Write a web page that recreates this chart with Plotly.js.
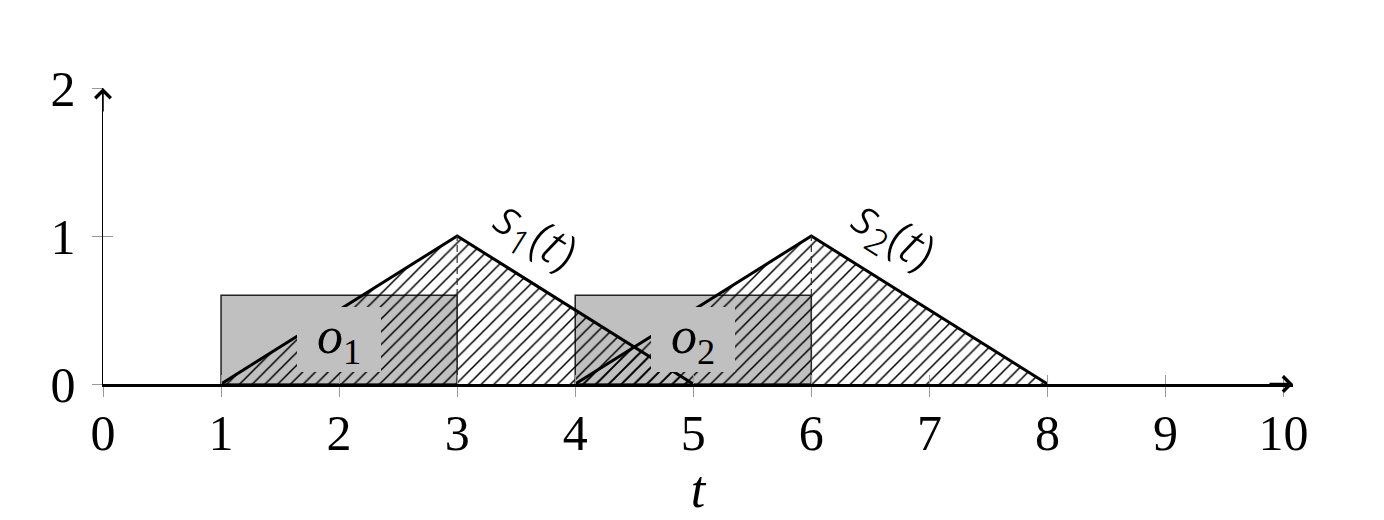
<!DOCTYPE html>
<html>
<head>
<meta charset="utf-8">
<script src="https://cdn.plot.ly/plotly-3.0.1.min.js"></script>
<style>html,body{margin:0;padding:0;background:#fff;}#chart{width:1384px;height:520px;}</style>
</head>
<body>
<div id="chart"></div>
<script>
// ---- data ----
const xTickVals = [0, 1, 2, 3, 4, 5, 6, 7, 8, 9, 10];
const xTickText = ["0", "1", "2", "3", "4", "5", "6", "7", "8", "9", "10"];
const yTickVals = [0, 1, 2];
const yTickText = ["0", "1", "2"];

// s1(t), s2(t): triangular signals
const s1T = [1, 3, 5];
const s1V = [0, 1, 0];
const s2T = [4, 6, 8];
const s2V = [0, 1, 0];

// o1, o2: rectangular windows [start, end] and height
const o1Span = [1, 3];
const o2Span = [4, 6];
const oHeight = 0.6;

// peak markers (dashed verticals)
const peakT = [3, 6];
const peakV = 1;

// labels
const oLabels = ["<i>o</i><sub>1</sub>", "<i>o</i><sub>2</sub>"];
const oLabelT = [2.0, 5.0];
const oLabelV = 0.3;
const sLabels = ["<i>s</i><sub>1</sub>(<i>t</i>)", "<i>s</i><sub>2</sub>(<i>t</i>)"];
const sLabelT = [3.66, 6.70];
const sLabelV = 1.0;

// ---- build ----
const GRAY = '#c0c0c0';
const traces = [];

function rectTrace(span, h) {
  return {
    x: [span[0], span[1], span[1], span[0], span[0]],
    y: [0, 0, h, h, 0],
    mode: 'lines', fill: 'toself', fillcolor: GRAY,
    line: {color: '#222', width: 1.5},
    hoverinfo: 'skip', showlegend: false
  };
}
traces.push(rectTrace(o1Span, oHeight));
traces.push(rectTrace(o2Span, oHeight));

function triTrace(t, v) {
  return {
    x: t, y: v, mode: 'lines', fill: 'toself',
    fillcolor: 'rgba(0,0,0,0)',
    fillpattern: {shape: '/', fgcolor: '#000', bgcolor: 'rgba(0,0,0,0)', size: 9, solidity: 0.17},
    line: {color: '#000', width: 3},
    hoverinfo: 'skip', showlegend: false
  };
}
traces.push(triTrace(s1T, s1V));
traces.push(triTrace(s2T, s2V));

peakT.forEach(p => {
  traces.push({
    x: [p, p], y: [0, peakV], mode: 'lines',
    line: {color: '#333', width: 1.2, dash: '7px,4px'},
    hoverinfo: 'skip', showlegend: false
  });
});

const annotations = [];
oLabels.forEach((txt, i) => {
  annotations.push({
    x: oLabelT[i], y: oLabelV, xref: 'x', yref: 'y', text: txt, showarrow: false,
    bgcolor: GRAY, width: 84, height: 65, borderpad: 0, borderwidth: 0,
    font: {family: 'Liberation Serif', size: 52, color: '#000'}
  });
});
sLabels.forEach((txt, i) => {
  annotations.push({
    x: sLabelT[i], y: sLabelV, xref: 'x', yref: 'y', text: txt, showarrow: false,
    textangle: 32,
    font: {family: 'Noto Sans', size: 50, color: '#000', weight: 300}
  });
});
// axis arrowheads
annotations.push({
  x: 10.08, y: 0, xref: 'x', yref: 'y', ax: -25, ay: 0, text: '', showarrow: true,
  arrowhead: 4, arrowwidth: 2.6, arrowsize: 1.15, arrowcolor: '#000', standoff: 0
});
annotations.push({
  x: 0, y: 2, xref: 'x', yref: 'y', ax: 0, ay: 25, text: '', showarrow: true,
  arrowhead: 4, arrowwidth: 1.5, arrowsize: 2, arrowcolor: '#000', standoff: 0
});

const tickFont = {family: 'Liberation Serif', size: 50, color: '#000'};
const layout = {
  width: 1384, height: 520,
  margin: {l: 103, r: 91, t: 88, b: 136},
  paper_bgcolor: '#fff', plot_bgcolor: '#fff',
  showlegend: false,
  xaxis: {
    range: [0, 10.08], showgrid: false, zeroline: false,
    showline: true, linecolor: '#000', linewidth: 2.6,
    tickmode: 'array', tickvals: xTickVals, ticktext: xTickText,
    ticks: 'outside', ticklen: 10, tickwidth: 1, tickcolor: '#999',
    tickfont: tickFont, ticklabelstandoff: -7,
    title: {text: '<i>t</i>', font: {family: 'Liberation Serif', size: 52, color: '#000'}, standoff: 10}
  },
  xaxis2: {
    overlaying: 'x', anchor: 'y', side: 'bottom', matches: 'x',
    range: [0, 10.08], showgrid: false, zeroline: false, showline: false,
    tickmode: 'array', tickvals: xTickVals, showticklabels: false,
    ticks: 'inside', ticklen: 9, tickwidth: 1, tickcolor: '#999'
  },
  yaxis: {
    range: [0, 2], showgrid: false, zeroline: false,
    showline: true, linecolor: '#000', linewidth: 1.5,
    tickmode: 'array', tickvals: yTickVals, ticktext: yTickText,
    ticks: 'outside', ticklen: 10, tickwidth: 1, tickcolor: '#999',
    tickfont: tickFont, ticklabelstandoff: 6
  },
  yaxis2: {
    overlaying: 'y', anchor: 'x', side: 'left',
    range: [0, 2], showgrid: false, zeroline: false, showline: false,
    tickmode: 'array', tickvals: yTickVals, showticklabels: false,
    ticks: 'inside', ticklen: 10, tickwidth: 1, tickcolor: '#999'
  },
  annotations: annotations
};

// empty traces so the overlay axes render their tick marks
traces.push({x: [], y: [], xaxis: 'x2', yaxis: 'y', mode: 'lines', showlegend: false, hoverinfo: 'skip'});
traces.push({x: [], y: [], xaxis: 'x', yaxis: 'y2', mode: 'lines', showlegend: false, hoverinfo: 'skip'});

Plotly.newPlot('chart', traces, layout, {staticPlot: true, displayModeBar: false});
</script>
</body>
</html>
